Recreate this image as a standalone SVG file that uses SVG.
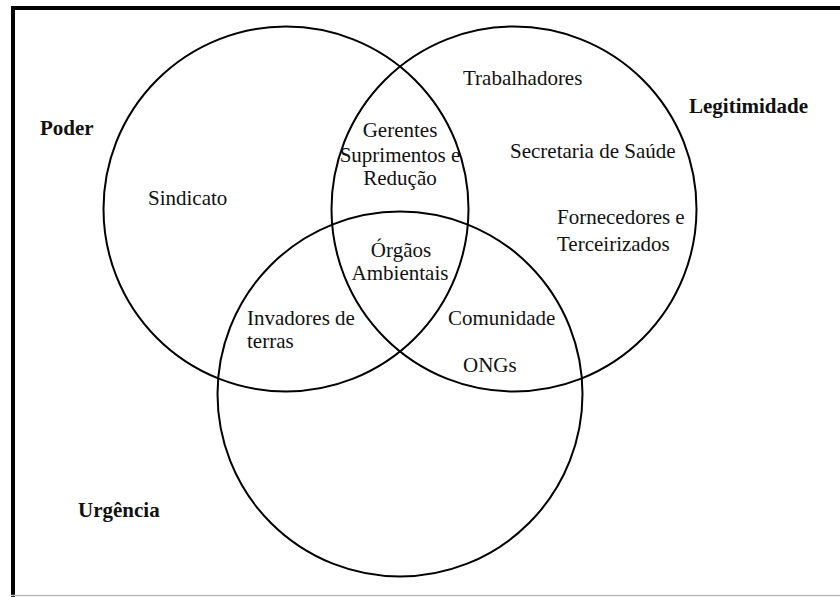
<svg xmlns="http://www.w3.org/2000/svg" width="840" height="597" viewBox="0 0 840 597">
<style>
.c{fill:none;stroke:#000;stroke-width:2}
.t{font-family:"Liberation Serif","Times New Roman",serif;font-size:21px;fill:#111}
.b{font-weight:bold}
.m{text-anchor:middle}
</style>
<rect width="840" height="597" fill="#fff"/>
<g id="frame">
<line x1="13" y1="6" x2="13" y2="597" stroke="#000" stroke-width="4"/>
<line x1="11" y1="8" x2="840" y2="8" stroke="#000" stroke-width="4"/>
<line x1="11" y1="595.5" x2="840" y2="595.5" stroke="#bbb" stroke-width="1.5"/>
</g>
<g id="poder">
<circle class="c" cx="286" cy="209" r="182.5"/>
<text class="t b" x="40" y="135">Poder</text>
<text class="t" x="148" y="205">Sindicato</text>
</g>
<g id="legitimidade">
<circle class="c" cx="514" cy="209" r="182.5"/>
<text class="t b" x="689" y="113">Legitimidade</text>
<text class="t" x="463" y="85">Trabalhadores</text>
<text class="t" x="510" y="158">Secretaria de Saúde</text>
<text class="t" x="557" y="224">Fornecedores e</text>
<text class="t" x="557" y="251">Terceirizados</text>
</g>
<g id="urgencia">
<circle class="c" cx="400" cy="394" r="182.5"/>
<text class="t b" x="78" y="517">Urgência</text>
</g>
<g id="poder-legitimidade">
<text class="t m" x="400" y="137">Gerentes</text>
<text class="t m" x="400" y="162">Suprimentos e</text>
<text class="t m" x="400" y="185">Redução</text>
</g>
<g id="todos">
<text class="t m" x="401" y="257">Órgãos</text>
<text class="t m" x="400" y="280">Ambientais</text>
</g>
<g id="poder-urgencia">
<text class="t" x="247" y="325">Invadores de</text>
<text class="t" x="247" y="348">terras</text>
</g>
<g id="legitimidade-urgencia">
<text class="t" x="448" y="325">Comunidade</text>
<text class="t" x="463" y="372">ONGs</text>
</g>
<g id="connectors"/>
</svg>
